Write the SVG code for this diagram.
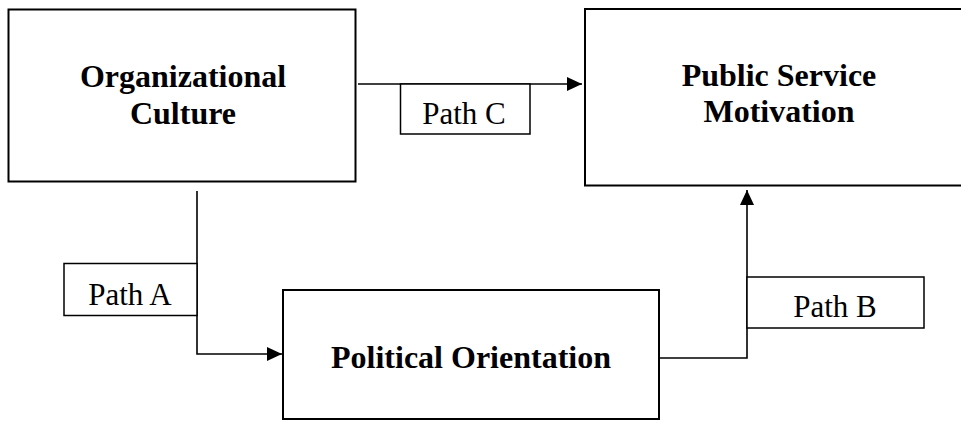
<svg xmlns="http://www.w3.org/2000/svg" width="961" height="421" viewBox="0 0 961 421">
  <style>
    .node { fill: #ffffff; stroke: #000000; stroke-width: 2; }
    .lbl { fill: #ffffff; stroke: #000000; stroke-width: 1.5; }
    .conn { fill: none; stroke: #000000; stroke-width: 1.6; }
    .bold { font-family: "Liberation Serif", "Times New Roman", serif; font-weight: bold; font-size: 32px; text-anchor: middle; fill: #000; }
    .reg { font-family: "Liberation Serif", "Times New Roman", serif; font-size: 31px; text-anchor: middle; fill: #000; }
  </style>
  <defs>
    <marker id="arrow" markerUnits="userSpaceOnUse" markerWidth="15" markerHeight="14" refX="15" refY="7" orient="auto">
      <path d="M0,0 L15,7 L0,14 z" fill="#000"/>
    </marker>
  </defs>
  <rect width="961" height="421" fill="#ffffff"/>

  <g id="org-culture">
    <rect class="node" x="8.5" y="9.5" width="347" height="172"/>
    <text class="bold" x="183" y="87">Organizational</text>
    <text class="bold" x="183" y="124">Culture</text>
  </g>

  <g id="psm">
    <rect class="node" x="585" y="9" width="390" height="176.5"/>
    <text class="bold" x="779" y="86">Public Service</text>
    <text class="bold" x="779" y="122">Motivation</text>
  </g>

  <g id="political-orientation">
    <rect class="node" x="283" y="290" width="376" height="129"/>
    <text class="bold" x="471" y="368">Political Orientation</text>
  </g>

  <g id="connectors">
    <path class="conn" d="M358,84 L582,84" marker-end="url(#arrow)"/>
    <path class="conn" d="M197,191 L197,354 L282,354" marker-end="url(#arrow)"/>
    <path class="conn" d="M659,358 L747,358 L747,190" marker-end="url(#arrow)"/>
  </g>

  <g id="path-c">
    <rect class="lbl" x="400.5" y="84" width="129.5" height="50"/>
    <text class="reg" x="464" y="124">Path C</text>
  </g>

  <g id="path-a">
    <rect class="lbl" x="64" y="263.5" width="133" height="52"/>
    <text class="reg" x="130" y="305">Path A</text>
  </g>

  <g id="path-b">
    <rect class="lbl" x="747" y="277" width="177" height="51"/>
    <text class="reg" x="835" y="317">Path B</text>
  </g>
</svg>
